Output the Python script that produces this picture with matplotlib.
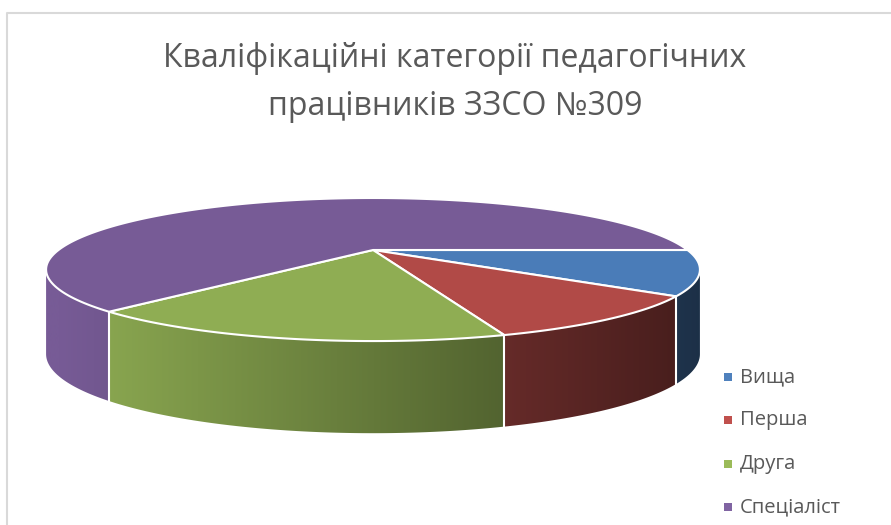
import numpy as np
import matplotlib.pyplot as plt
import matplotlib.colors as mcolors
from matplotlib.patches import Polygon

categories = ['Вища', 'Перша', 'Друга', 'Спеціаліст']
values = [6, 6, 10, 38]
legend_colors = ['#4F81BD', '#C0504D', '#9BBB59', '#8064A2']
top_colors = ['#4A7CB8', '#B14A47', '#8FAD53', '#775B96']
title = 'Кваліфікаційні категорії педагогічних\nпрацівників ЗЗСО №309'

plt.rcParams['font.family'] = ['Open Sans', 'DejaVu Sans']

# pie geometry in pixels (perspective view)
cx, cy = 373, 250
R, Ry = 314.5, 66.2
persp = 0.273
depth = 82


def rim(th, z=0.0):
    s = 1.0 / (1 - persp * np.sin(th))
    x = cx + R * np.cos(th) * s
    y = cy + Ry * np.sin(th) * s + z * depth / (1 - 0.11 * np.sin(th))
    return x, y


fig = plt.figure(figsize=(8.91, 5.25), dpi=100)
ax = fig.add_axes([0, 0, 1, 1])
ax.axis('off')

# chart border
ax.plot([7, 7, 891], [525, 13, 13], color='#D9D9D9', lw=1.5)

frac = np.array(values, dtype=float) / sum(values)
edges = np.concatenate([[0], np.cumsum(frac)]) * 2 * np.pi

# visible part of the wall lies between the two silhouette angles
th_s = np.arcsin(persp)

# side walls with a left-to-right shading
gx = np.linspace(0, 891, 600)
shade = np.clip(0.7 - 0.3 * (gx - cx) / R, 0, 1)
for i in range(len(values)):
    a0, a1 = max(edges[i], th_s), min(edges[i + 1], np.pi - th_s)
    if a1 <= a0:
        continue
    th = np.linspace(a0, a1, 200)
    xt, yt = rim(th)
    xb, yb = rim(th, 1)
    pts = list(zip(xt, yt)) + list(zip(xb[::-1], yb[::-1]))
    wall = Polygon(pts, closed=True, facecolor='none', edgecolor='none')
    ax.add_patch(wall)
    base = np.array(mcolors.to_rgb(top_colors[i]))
    img = np.clip(shade[None, :, None] * base[None, None, :], 0, 1)
    im = ax.imshow(img, extent=[0, 891, 525, 0], aspect='auto',
                   interpolation='bilinear', zorder=1)
    im.set_clip_path(wall)

# vertical edges between slices on the visible side
for a in edges[1:-1]:
    if th_s < a < np.pi - th_s:
        xt, yt = rim(a)
        xb, yb = rim(a, 1)
        ax.plot([xt, xb], [yt, yb], color='white', lw=1.5, zorder=2)

# top faces
for i in range(len(values)):
    th = np.linspace(edges[i], edges[i + 1], 200)
    xs, ys = rim(th)
    pts = [(cx, cy)] + list(zip(xs, ys))
    ax.add_patch(Polygon(pts, closed=True, facecolor=top_colors[i],
                         edgecolor='white', lw=1.5, joinstyle='round', zorder=3))

ax.text(455, 115, title, ha='center', va='baseline', fontsize=23,
        color='#595959', linespacing=1.6)

# legend
for k, (name, c) in enumerate(zip(categories, legend_colors)):
    yk = 377 + 43.3 * k
    ax.scatter([728], [yk], marker='s', s=36, color=c, linewidths=0, zorder=4)
    ax.text(740, yk, name, ha='left', va='center', fontsize=14.5, color='#595959')

ax.set_xlim(0, 891)
ax.set_ylim(525, 0)
fig.savefig('out.png', dpi=100)
